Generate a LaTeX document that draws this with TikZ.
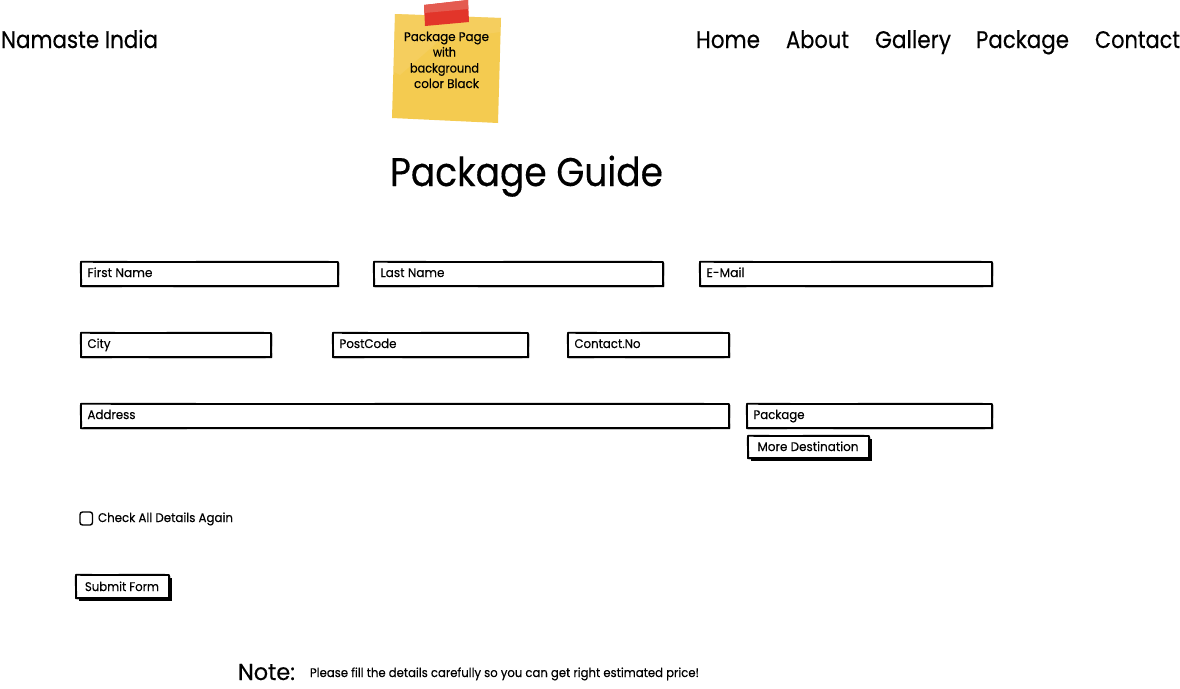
\documentclass[tikz,border=0pt]{standalone}
\usepackage{fontspec}
\usepackage{graphicx}
\setmainfont{Poppins}[FakeBold=0.35]
\definecolor{stickyyellow}{HTML}{F4CB50}
\definecolor{stickylight}{HTML}{F6D26A}
\definecolor{tapered}{HTML}{E2352A}
\definecolor{tapelight}{HTML}{E45B50}
\newcommand{\fitw}[2]{\setbox0=\hbox{#2}\pgfmathsetmacro\fitr{#1/\the\wd0}\scalebox{\fitr}[1]{#2}}
\tikzset{
  x=1pt,y=-1pt,
  lbl/.style={anchor=base west,inner sep=0pt,outer sep=0pt,font=\fontsize{#1}{#1}\selectfont,text=black},
  sketch/.style={draw=black,line width=1.9pt,fill=white,line join=round},
  sketchedge/.style={draw=black,line width=1.2pt,line cap=round},
  shadowbox/.style={fill=black,draw=none},
}
% hand-drawn rectangle: x0 y0 x1 y1
\newcommand{\roughbox}[4]{%
  \draw[sketch] (#1,#2-0.3)
    .. controls ({#1+(#3-#1)*0.3},#2+0.4) and ({#1+(#3-#1)*0.7},#2-0.5) .. (#3,#2)
    .. controls (#3+0.4,{#2+(#4-#2)*0.3}) and (#3-0.3,{#2+(#4-#2)*0.7}) .. (#3+0.2,#4)
    .. controls ({#1+(#3-#1)*0.7},#4+0.5) and ({#1+(#3-#1)*0.3},#4-0.3) .. (#1,#4+0.2)
    .. controls (#1+0.3,{#2+(#4-#2)*0.7}) and (#1-0.4,{#2+(#4-#2)*0.3}) .. cycle;
  \draw[sketchedge] (#1+1,#4+0.6) -- (#3+0.4,#4+0.5) -- (#3+0.5,#2+1);
}
\newcommand{\field}[7]{% name, x0, y0, x1, y1, text width, text
  \roughbox{#2}{#3}{#4}{#5}
  \node[lbl=12.5] (#1) at (#2+6.5,#5-9) {\fitw{#6}{#7}};
}
\begin{document}
\begin{tikzpicture}
\useasboundingbox (0,0) rectangle (1180,688);
\fill[white] (0,0) rectangle (1180,688);

% header
\node[lbl=24] (brand) at (1,48) {\fitw{157}{Namaste India}};
\node[lbl=24] (home) at (696,48) {\fitw{64}{Home}};
\node[lbl=24] (about) at (786,48) {\fitw{63}{About}};
\node[lbl=24] (gallery) at (875,48) {\fitw{76}{Gallery}};
\node[lbl=24] (package) at (976,48) {\fitw{93}{Package}};
\node[lbl=24] (contact) at (1095,48) {\fitw{85}{Contact}};

% sticky note
\fill[stickyyellow] (395,14) -- (501,18) -- (498,123) -- (392,118) -- cycle;
\fill[stickylight,opacity=.55] (395,14) -- (501,18) -- (500,32) -- (440,40) -- (400,75) -- (394,72) -- cycle;
\fill[tapered] (424,5) -- (468,0) -- (469,22) -- (425,26) -- cycle;
\fill[tapelight] (424,5) -- (468,0) -- (468.3,9) -- (424.3,13) -- cycle;
\node[lbl=12.5] (s1) at (404,41) {\fitw{85}{Package Page}};
\node[lbl=12.5] (s2) at (433,56.5) {\fitw{23}{with}};
\node[lbl=12.5] (s3) at (410,72.5) {\fitw{69}{background}};
\node[lbl=12.5] (s4) at (414,88) {\fitw{65}{color Black}};

% title
\node[lbl=40] (title) at (390,186) {\fitw{273}{Package Guide}};

% form fields
\field{first}{81}{262}{338}{286}{65}{First Name}
\field{last}{374}{262}{663}{286}{64}{Last Name}
\field{mail}{700}{262}{992}{286}{38}{E-Mail}
\field{city}{81}{333}{271}{357}{23}{City}
\field{post}{333}{333}{528}{357}{57}{PostCode}
\field{phone}{568}{333}{729}{357}{66}{Contact.No}
\field{addr}{81}{404}{729}{428}{48}{Address}
\field{pack}{747}{404}{992}{428}{51}{Package}

% buttons
\fill[shadowbox] (751,439) rectangle (872,461);
\roughbox{748}{436}{869}{458}
\node[lbl=12.5] (more) at (757.5,451) {\fitw{101}{More Destination}};

\draw[black,line width=1.4pt,rounded corners=2.5pt,fill=white] (80,512) rectangle (92.5,525);
\node[lbl=12.5] (check) at (98,522) {\fitw{135}{Check All Details Again}};

\fill[shadowbox] (79,578) rectangle (172,601);
\roughbox{76}{575}{169}{598}
\node[lbl=12.5] (submit) at (85,591) {\fitw{74}{Submit Form}};

% note
\node[lbl=23] (note) at (238,680) {\fitw{57}{Note:}};
\node[lbl=12.5] (notetext) at (310,677) {\fitw{389}{Please fill the details carefully so you can get right estimated price!}};
\end{tikzpicture}
\end{document}
